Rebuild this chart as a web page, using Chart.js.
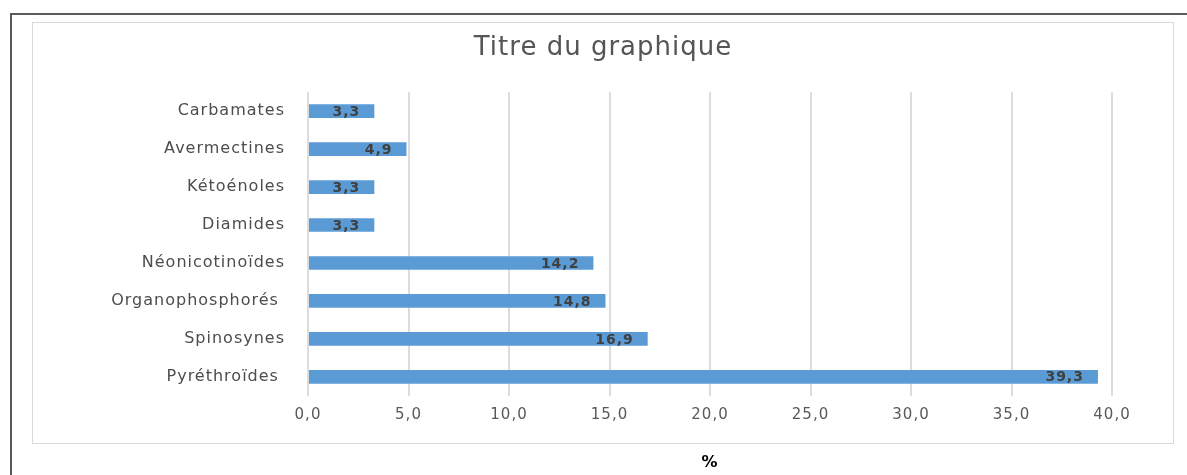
<!DOCTYPE html>
<html>
<head>
<meta charset="utf-8">
<script src="https://cdn.jsdelivr.net/npm/chart.js@4"></script>
<style>
  html, body { margin: 0; padding: 0; background: #fff; }
  #wrap { width: 1187px; height: 475px; position: relative; }
</style>
</head>
<body>
<div id="wrap"><canvas id="chart" width="1187" height="475"></canvas></div>
<script>
const categories = ["Carbamates", "Avermectines", "Kétoénoles", "Diamides", "Néonicotinoïdes", "Organophosphorés ", "Spinosynes", "Pyréthroïdes "];
const values = [3.3, 4.9, 3.3, 3.3, 14.2, 14.8, 16.9, 39.3];
const xTicks = [0, 5, 10, 15, 20, 25, 30, 35, 40];

const fr = v => v.toFixed(1).replace('.', ',');

// the original text is drawn wide, so space the letters a little
const wideText = {
  id: 'wideText',
  beforeUpdate(chart) { chart.ctx.letterSpacing = '1px'; },
  beforeDraw(chart) { chart.ctx.letterSpacing = '1px'; }
};

// frames: dark outer border + light chart box
const frames = {
  id: 'frames',
  beforeDraw(chart) {
    const ctx = chart.ctx;
    ctx.save();
    ctx.fillStyle = '#fff';
    ctx.fillRect(0, 0, chart.width, chart.height);
    ctx.strokeStyle = '#5a5a5a';
    ctx.lineWidth = 2;
    ctx.strokeRect(11, 14, 1200, 500);
    ctx.strokeStyle = '#d9d9d9';
    ctx.lineWidth = 1;
    ctx.strokeRect(32.5, 22.5, 1141, 421);
    ctx.restore();
  }
};

// value labels, inside end of each bar
const barLabels = {
  id: 'barLabels',
  afterDatasetsDraw(chart) {
    const ctx = chart.ctx;
    const meta = chart.getDatasetMeta(0);
    ctx.save();
    ctx.font = 'bold 14px "DejaVu Sans"';
    ctx.fillStyle = '#404040';
    ctx.textAlign = 'right';
    ctx.textBaseline = 'middle';
    meta.data.forEach((bar, i) => {
      ctx.fillText(fr(values[i]), bar.x - 14, bar.y + 1);
    });
    ctx.restore();
  }
};

new Chart(document.getElementById('chart'), {
  type: 'bar',
  data: {
    labels: categories,
    datasets: [{
      data: values,
      backgroundColor: '#5b9bd5',
      borderWidth: 0,
      barPercentage: 0.72,
      categoryPercentage: 0.5
    }]
  },
  options: {
    indexAxis: 'y',
    responsive: false,
    animation: false,
    layout: { padding: { left: 33, right: 14, top: 0, bottom: 0 } },
    plugins: {
      legend: { display: false },
      tooltip: { enabled: false },
      title: {
        display: true,
        text: 'Titre du graphique',
        color: '#555555',
        font: { family: 'DejaVu Sans', size: 26, weight: 'normal' },
        padding: { top: 33, bottom: 28 }
      }
    },
    scales: {
      x: {
        min: 0,
        max: 40,
        afterBuildTicks(scale) { scale.ticks = xTicks.map(v => ({ value: v })); },
        afterFit(scale) { scale.paddingRight = 75; },
        ticks: {
          callback: v => fr(v),
          color: '#595959',
          font: { family: 'DejaVu Sans', size: 15 },
          padding: 10
        },
        grid: { color: '#dcdcdc', lineWidth: 2, drawTicks: false },
        border: { display: false },
        title: {
          display: true,
          text: '%',
          color: '#000',
          font: { family: 'DejaVu Sans', size: 16, weight: 'bold' },
          padding: { top: 19, bottom: 3 }
        }
      },
      y: {
        afterFit(scale) { scale.width = 308 - 33; },
        ticks: {
          color: '#4d4d4d',
          font: { family: 'DejaVu Sans', size: 16 },
          padding: 23
        },
        grid: { display: false, drawTicks: false },
        border: { display: false }
      }
    }
  },
  plugins: [wideText, frames, barLabels]
});
</script>
</body>
</html>
